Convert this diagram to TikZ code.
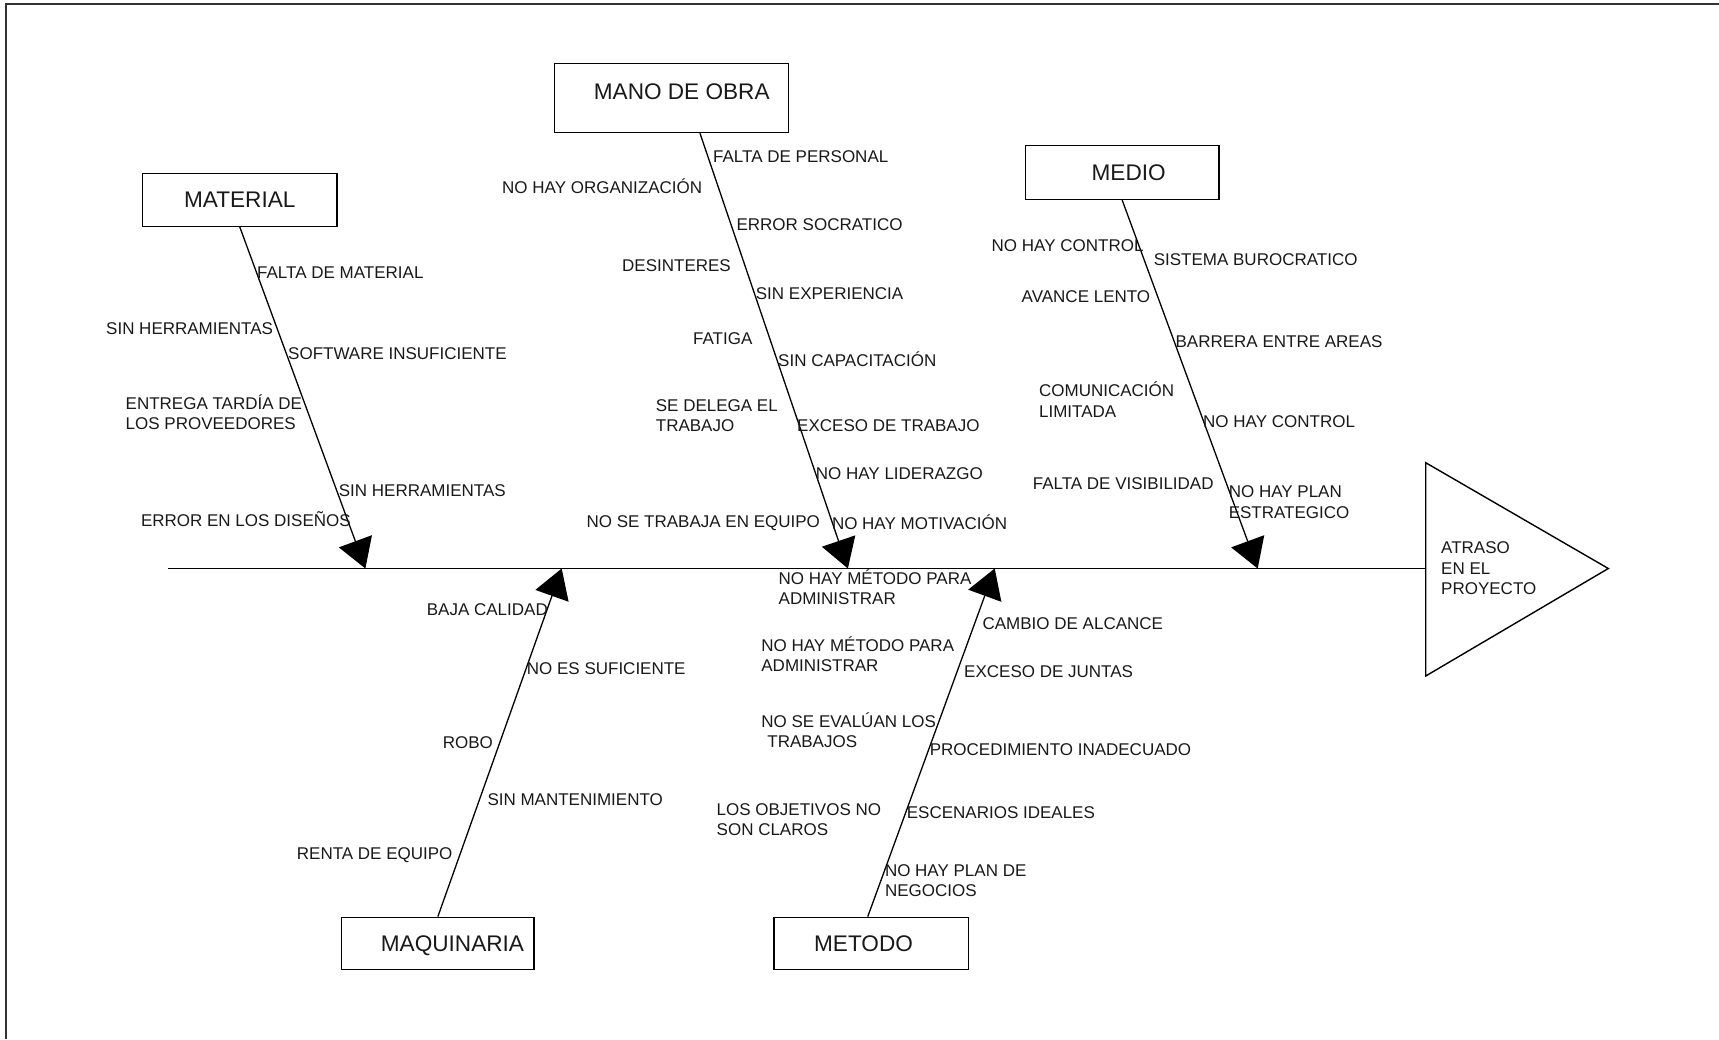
\documentclass[tikz,border=0pt]{standalone}
\usepackage{fontspec}
\setmainfont{Liberation Sans}
\usetikzlibrary{arrows.meta,calc}
\newcommand{\twol}[2]{\begin{tabular}[t]{@{}l@{}}#1\\#2\end{tabular}}
\newcommand{\threel}[3]{\begin{tabular}[t]{@{}l@{}}#1\\#2\\#3\end{tabular}}
\begin{document}
\begin{tikzpicture}[x=1pt,y=-1pt,
  catbox/.style={draw, line width=1.4pt, inner sep=0pt, text height=16.2pt, text depth=0pt,
    font=\fontsize{22.6}{27}\selectfont, text=black!90},
  lbl/.style={anchor=base west, inner sep=0pt, font=\fontsize{17}{20.5}\selectfont, text=black!90},
  bone/.style={line width=1.3pt, -{Triangle[length=29pt,width=35pt]}},
  spineline/.style={line width=1.4pt},
  framel/.style={line width=2pt, black!80}]
\useasboundingbox (0,0) rectangle (1719,1039);
% frame (only top and left edges visible)
\draw[framel] (5.7,1039) -- (5.7,4.3) -- (1719,4.3);

% category boxes
\node[catbox, minimum width=194.7pt, minimum height=52.8pt] (mat) at (239.75,199.8) {MATERIAL};
\node[catbox, minimum width=234.3pt, minimum height=69.3pt, text depth=12pt] (mano) at (671.45,97.85) {\hspace*{20.6pt}MANO DE OBRA};
\node[catbox, minimum width=193.7pt, minimum height=53.6pt] (medio) at (1122.15,172.5) {\hspace*{13pt}MEDIO};
\node[catbox, minimum width=192.3pt, minimum height=52pt] (maq) at (437.85,943.3) {\hspace*{29.2pt}MAQUINARIA};
\node[catbox, minimum width=194.7pt, minimum height=52pt] (met) at (871.25,943.3) {METODO\hspace*{15.4pt}};

% effect triangle
\coordinate (tT) at (1425.7,462.7);
\coordinate (tB) at (1425.7,676);
\coordinate (tP) at (1608.3,568.5);
\coordinate (tL) at (1425.7,568.5);
\draw[line width=1.4pt] (tT) -- (tP) -- (tB) -- cycle;
\node[lbl] (eff) at (1441,553.8) {\threel{ATRASO}{EN EL}{PROYECTO}};

% spine
\coordinate (spL) at (168.4,568.5);
\draw[spineline] (spL) -- (tL);

% bone end points on the spine
\coordinate (pA) at (365.4,568.5);
\coordinate (pB) at (847.9,568.5);
\coordinate (pC) at (1257.7,568.5);
\coordinate (pD) at (561.7,568.5);
\coordinate (pE) at (994.7,568.5);

\draw[bone] (mat.south) -- (pA);
\draw[bone] ($(mano.south)+(28.5,0)$) -- (pB);
\draw[bone] (medio.south) -- (pC);
\draw[bone] (maq.north) -- (pD);
\draw[bone] ($(met.north)+(-3.5,0)$) -- (pE);

% MATERIAL causes
\node[lbl] (a1) at (257,278) {FALTA DE MATERIAL};
\node[lbl] (a2) at (106,334) {SIN HERRAMIENTAS};
\node[lbl] (a3) at (288,359) {SOFTWARE INSUFICIENTE};
\node[lbl] (a4) at (125.5,409) {\twol{ENTREGA TARDÍA DE}{LOS PROVEEDORES}};
\node[lbl] (a5) at (338.7,496.7) {SIN HERRAMIENTAS};
\node[lbl] (a6) at (140.8,526.5) {ERROR EN LOS DISEÑOS};

% MANO DE OBRA causes
\node[lbl] (b1) at (713,162) {FALTA DE PERSONAL};
\node[lbl] (b2) at (502,193) {NO HAY ORGANIZACIÓN};
\node[lbl] (b3) at (736.4,230.7) {ERROR SOCRATICO};
\node[lbl] (b4) at (622,271) {DESINTERES};
\node[lbl] (b5) at (755.7,299.7) {SIN EXPERIENCIA};
\node[lbl] (b6) at (693,344) {FATIGA};
\node[lbl] (b7) at (778,366.8) {SIN CAPACITACIÓN};
\node[lbl] (b8) at (655.7,411) {\twol{SE DELEGA EL}{TRABAJO}};
\node[lbl] (b9) at (797,431) {EXCESO DE TRABAJO};
\node[lbl] (b10) at (815.7,479) {NO HAY LIDERAZGO};
\node[lbl] (b11) at (586.4,527.5) {NO SE TRABAJA EN EQUIPO};
\node[lbl] (b12) at (831.8,529) {NO HAY MOTIVACIÓN};

% MEDIO causes
\node[lbl] (c1) at (991.5,251.8) {NO HAY CONTROL};
\node[lbl] (c2) at (1153.6,265.4) {SISTEMA BUROCRATICO};
\node[lbl] (c3) at (1021.5,302.9) {AVANCE LENTO};
\node[lbl] (c4) at (1175.4,347.5) {BARRERA ENTRE AREAS};
\node[lbl] (c5) at (1038.9,396.5) {\twol{COMUNICACIÓN}{LIMITADA}};
\node[lbl] (c6) at (1203,427.9) {NO HAY CONTROL};
\node[lbl] (c7) at (1032.6,489.7) {FALTA DE VISIBILIDAD};
\node[lbl] (c8) at (1228.6,497.5) {\twol{NO HAY PLAN}{ESTRATEGICO}};

% MAQUINARIA causes
\node[lbl] (d1) at (426.7,615.4) {BAJA CALIDAD};
\node[lbl] (d2) at (526.7,674.4) {NO ES SUFICIENTE};
\node[lbl] (d3) at (442.7,748.4) {ROBO};
\node[lbl] (d4) at (487.3,805) {SIN MANTENIMIENTO};
\node[lbl] (d5) at (296.7,859.4) {RENTA DE EQUIPO};

% METODO causes
\node[lbl] (e1) at (778.5,584.4) {\twol{NO HAY MÉTODO PARA}{ADMINISTRAR}};
\node[lbl] (e2) at (982.4,629.4) {CAMBIO DE ALCANCE};
\node[lbl] (e3) at (761.2,651) {\twol{NO HAY MÉTODO PARA}{ADMINISTRAR}};
\node[lbl] (e4) at (964,677.8) {EXCESO DE JUNTAS};
\node[lbl] (e5) at (761.2,727) {\twol{NO SE EVALÚAN LOS}{\hspace*{6pt}TRABAJOS}};
\node[lbl] (e6) at (929.6,755.4) {PROCEDIMIENTO INADECUADO};
\node[lbl] (e7) at (716.5,815.4) {\twol{LOS OBJETIVOS NO}{SON CLAROS}};
\node[lbl] (e8) at (906.7,818.8) {ESCENARIOS IDEALES};
\node[lbl] (e9) at (884.8,876) {\twol{NO HAY PLAN DE}{NEGOCIOS}};
\end{tikzpicture}
\end{document}
